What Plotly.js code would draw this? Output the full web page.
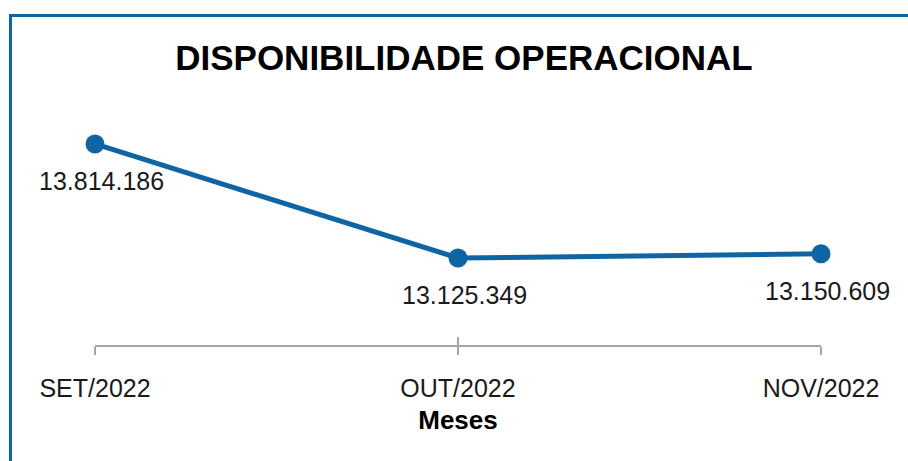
<!DOCTYPE html>
<html>
<head>
<meta charset="utf-8">
<script src="https://cdn.plot.ly/plotly-3.0.1.min.js"></script>
<style>
html,body{margin:0;padding:0;background:#fff;}
#wrap{position:relative;width:908px;height:461px;overflow:hidden;}
#frame{position:absolute;left:9px;top:14px;width:920px;height:470px;border-left:3px solid #0F64A3;border-top:3px solid #0F64A3;}
#chart{position:absolute;left:0;top:0;width:908px;height:461px;}
</style>
</head>
<body>
<div id="wrap"><div id="frame"></div><div id="chart"></div></div>
<script>
const months = ["SET/2022", "OUT/2022", "NOV/2022"];
const values = [13814186, 13125349, 13150609];
const valueLabels = ["13.814.186", "13.125.349", "13.150.609"];

const blue = "#0F64A3";
const idx = months.map((m, i) => i);

const trace = {
  x: idx, y: values, type: "scatter", mode: "lines+markers",
  line: {color: blue, width: 5},
  marker: {color: blue, size: 19},
  cliponaxis: false, hoverinfo: "none", showlegend: false
};

const annotations = idx.map((i) => ({
  x: i, y: values[i], xref: "x", yref: "y", text: valueLabels[i],
  showarrow: false, yshift: -37, xshift: 6,
  font: {family: "Liberation Sans, Arial, sans-serif", size: 25, color: "#1a1a1a"}
}));

const layout = {
  width: 908, height: 461,
  margin: {l: 95, r: 87, t: 100, b: 116},
  paper_bgcolor: "rgba(0,0,0,0)", plot_bgcolor: "rgba(0,0,0,0)",
  title: {
    text: "<b>DISPONIBILIDADE OPERACIONAL</b>",
    x: 0.511, xanchor: "center", y: 0.874, yanchor: "middle",
    font: {family: "Liberation Sans, Arial, sans-serif", size: 35, color: "#000"}
  },
  xaxis: {
    range: [0, 2], tickvals: idx, ticktext: months,
    showgrid: false, zeroline: false,
    showline: true, linecolor: "#A6A6A6", linewidth: 1.5,
    ticks: "outside", ticklen: 8, tickwidth: 1.5, tickcolor: "#A6A6A6",
    ticklabelstandoff: 12,
    tickfont: {family: "Liberation Sans, Arial, sans-serif", size: 25, color: "#1a1a1a"},
    title: {text: "<b>Meses</b>", standoff: 10,
      font: {family: "Liberation Sans, Arial, sans-serif", size: 26, color: "#000"}},
    fixedrange: true
  },
  xaxis2: {
    overlaying: "x", anchor: "y", side: "bottom",
    range: [0, 2], tickvals: idx, showticklabels: false,
    showgrid: false, zeroline: false, showline: false,
    ticks: "inside", ticklen: 8, tickwidth: 1.5, tickcolor: "#A6A6A6",
    fixedrange: true
  },
  yaxis: {
    range: [12599700, 14080034], visible: false, showgrid: false, zeroline: false, fixedrange: true
  },
  annotations: annotations
};

const dummy = {x: idx, y: values, xaxis: "x2", yaxis: "y", mode: "none", type: "scatter", showlegend: false, hoverinfo: "none"};

Plotly.newPlot("chart", [dummy, trace], layout, {displayModeBar: false, staticPlot: true});
</script>
</body>
</html>
